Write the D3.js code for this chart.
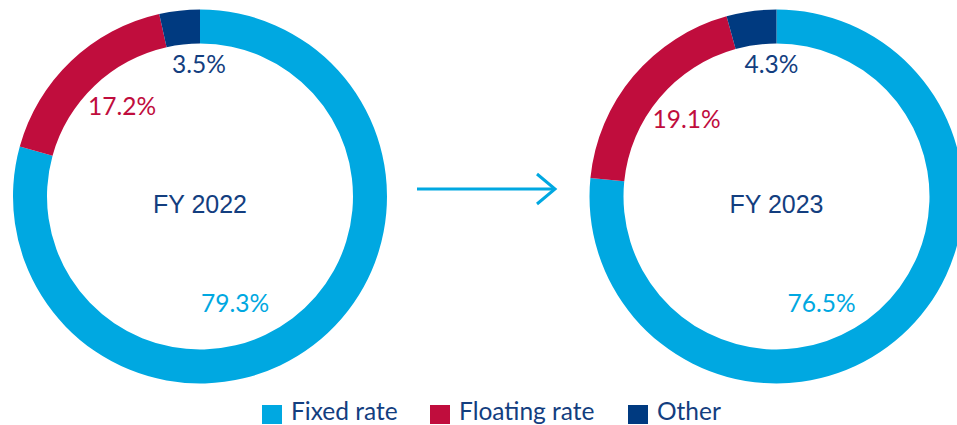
<!DOCTYPE html>
<html>
<head>
<meta charset="utf-8">
<script src="https://cdn.jsdelivr.net/npm/d3@7"></script>
<style>
  html, body { margin: 0; padding: 0; background: #ffffff; }
  svg { display: block; }
</style>
</head>
<body>
<svg id="chart" width="957" height="425"></svg>
<script>
// ---- Data ----
const categories = ["Fixed rate", "Floating rate", "Other"];
const years = ["FY 2022", "FY 2023"];
const values2022 = [79.3, 17.2, 3.5];
const values2023 = [76.5, 19.1, 4.3];

// ---- Styles / layout ----
const colors = d3.scaleOrdinal().domain(categories).range(["#00A8E1", "#C00D3D", "#003A80"]);
const navy = "#133E7F";
const labelFont = "Lato, 'Open Sans', sans-serif";
const titleFont = "'Liberation Sans', Arial, sans-serif";

const svg = d3.select("#chart");
const outerR = 187, innerR = 153;

const donuts = [
  { year: years[0], values: values2022, cx: 200, cy: 196.5,
    labelPos: [[35, 115], [-78, -82], [-1, -124]] },
  { year: years[1], values: values2023, cx: 776.5, cy: 196.5,
    labelPos: [[45, 115], [-90, -69], [-5, -124]] }
];

const pie = d3.pie().sort(null).value(d => d.value).startAngle(0).endAngle(2 * Math.PI);
const arc = d3.arc().innerRadius(innerR).outerRadius(outerR);

donuts.forEach(dn => {
  const data = categories.map((c, i) => ({ cat: c, value: dn.values[i] }));
  const g = svg.append("g").attr("transform", `translate(${dn.cx},${dn.cy})`);
  g.selectAll("path.slice")
    .data(pie(data))
    .join("path")
    .attr("class", "slice")
    .attr("d", arc)
    .attr("fill", d => colors(d.data.cat));

  g.append("text")
    .attr("x", 0).attr("y", 16.5)
    .attr("text-anchor", "middle")
    .attr("font-family", titleFont)
    .attr("font-size", 25)
    .attr("fill", navy)
    .text(dn.year);

  g.selectAll("text.pct")
    .data(data)
    .join("text")
    .attr("class", "pct")
    .attr("x", (d, i) => dn.labelPos[i][0])
    .attr("y", (d, i) => dn.labelPos[i][1])
    .attr("text-anchor", "middle")
    .attr("font-family", labelFont)
    .attr("font-size", 24.5)
    .attr("fill", d => colors(d.cat) === "#003A80" ? navy : colors(d.cat))
    .text(d => d3.format(".1f")(d.value) + "%");
});

// ---- Arrow ----
const arrow = svg.append("g")
  .attr("fill", "none")
  .attr("stroke", "#00A8E1")
  .attr("stroke-width", 3);
arrow.append("line").attr("x1", 417).attr("y1", 189).attr("x2", 554).attr("y2", 189);
arrow.append("polyline").attr("points", "537,174 555,189 537,204");

// ---- Legend ----
const legendX = [262, 430, 628];
const legend = svg.append("g");
categories.forEach((c, i) => {
  legend.append("rect")
    .attr("x", legendX[i]).attr("y", 405)
    .attr("width", 20).attr("height", 19)
    .attr("fill", colors(c));
  legend.append("text")
    .attr("x", legendX[i] + 29).attr("y", 420)
    .attr("font-family", labelFont)
    .attr("font-size", 24.5)
    .attr("fill", navy)
    .text(c);
});
</script>
</body>
</html>
